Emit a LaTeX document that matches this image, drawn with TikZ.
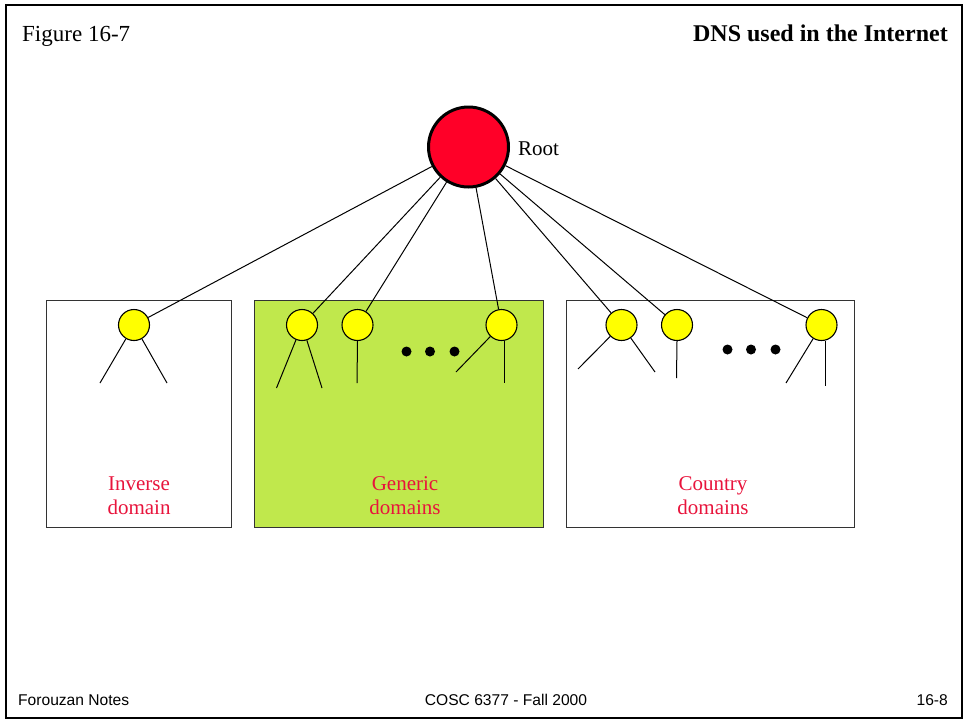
\documentclass[tikz,border=0pt]{standalone}
\usepackage{fontspec}
\setmainfont{Liberation Serif}
\setsansfont{Liberation Sans}
\definecolor{rootred}{RGB}{255,0,40}
\definecolor{labred}{RGB}{232,20,60}
\definecolor{gengreen}{RGB}{192,232,76}
\definecolor{ylw}{RGB}{255,255,0}
\begin{document}
\begin{tikzpicture}[x=1pt,y=-1pt,
  frame/.style={draw=black,line width=2.2pt},
  domainbox/.style={draw=black!80,line width=1pt},
  rootnode/.style={circle,draw=black,line width=3pt,fill=rootred,minimum size=80pt,inner sep=0pt},
  dnode/.style={circle,draw=black,line width=1.1pt,fill=ylw,minimum size=31pt,inner sep=0pt},
  edge/.style={draw=black,line width=1pt},
  dot/.style={circle,fill=black,minimum size=10pt,inner sep=0pt},
  lab/.style={text=labred,font=\fontsize{21}{24}\selectfont,align=center,inner sep=0pt},
  title/.style={font=\fontsize{23}{26}\selectfont,inner sep=0pt},
  foot/.style={font=\sffamily\fontsize{15.6}{18}\selectfont,inner sep=0pt}]
\useasboundingbox (0,0) rectangle (966,723);
\draw[frame] (6,5) rectangle (962,718);
% header
\node[title,anchor=base west] (fig) at (22,41) {Figure 16-7};
\node[title,anchor=base east,font=\bfseries\fontsize{24}{27}\selectfont] (ttl) at (948,41) {DNS used in the Internet};
% boxes
\draw[domainbox] (46,300) rectangle (231,527);
\draw[domainbox,fill=gengreen] (254,300) rectangle (543,527);
\draw[domainbox] (566,300) rectangle (854,527);
% root
\node[rootnode] (root) at (468.5,147) {};
\node[anchor=base west,inner sep=0pt,font=\fontsize{21}{24}\selectfont] (rootlab) at (518,155) {Root};
% domain nodes
\node[dnode] (i1) at (134,325) {};
\node[dnode] (g1) at (302,325) {};
\node[dnode] (g2) at (357.5,325) {};
\node[dnode] (g3) at (501.5,325) {};
\node[dnode] (c1) at (621.5,325) {};
\node[dnode] (c2) at (677,325) {};
\node[dnode] (c3) at (821.5,325) {};
% root edges
\foreach \n in {i1,g1,g2,g3,c1,c2,c3} \draw[edge] (root) -- (\n);
% child stubs
\coordinate (i1a) at (100,383);
\coordinate (i1b) at (167,383);
\coordinate (g1a) at (276.5,388);
\coordinate (g1b) at (322,388);
\coordinate (g2a) at (357,383);
\coordinate (g3a) at (456,372);
\coordinate (g3b) at (504,383);
\coordinate (c1a) at (578,369);
\coordinate (c1b) at (655,372);
\coordinate (c2a) at (676.5,378);
\coordinate (c3a) at (786,383);
\coordinate (c3b) at (825,386);
\draw[edge] (i1) -- (i1a);
\draw[edge] (i1) -- (i1b);
\draw[edge] (g1) -- (g1a);
\draw[edge] (g1) -- (g1b);
\draw[edge] (g2.south) -- (g2a);
\draw[edge] (g3) -- (g3a);
\draw[edge] (g3b |- g3.south) -- (g3b);
\draw[edge] (c1) -- (c1a);
\draw[edge] (c1) -- (c1b);
\draw[edge] (c2.south) -- (c2a);
\draw[edge] (c3) -- (c3a);
\draw[edge] (c3b |- c3.south) -- (c3b);
% dots
\node[dot] (gd1) at (406.5,351.5) {};
\node[dot] (gd2) at (430,351.5) {};
\node[dot] (gd3) at (454.5,351.5) {};
\node[dot] (cd1) at (727.5,349.5) {};
\node[dot] (cd2) at (751,349.5) {};
\node[dot] (cd3) at (775.5,349.5) {};
% labels
\node[lab] (ilab) at (139,496) {Inverse\\domain};
\node[lab] (glab) at (405,496) {Generic\\domains};
\node[lab] (clab) at (713,496) {Country\\domains};
% footer
\node[foot,anchor=base west] (f1) at (18,705) {Forouzan Notes};
\node[foot,anchor=base] (f2) at (506,705) {COSC 6377 - Fall 2000};
\node[foot,anchor=base east] (f3) at (948,705) {16-8};
\end{tikzpicture}
\end{document}
